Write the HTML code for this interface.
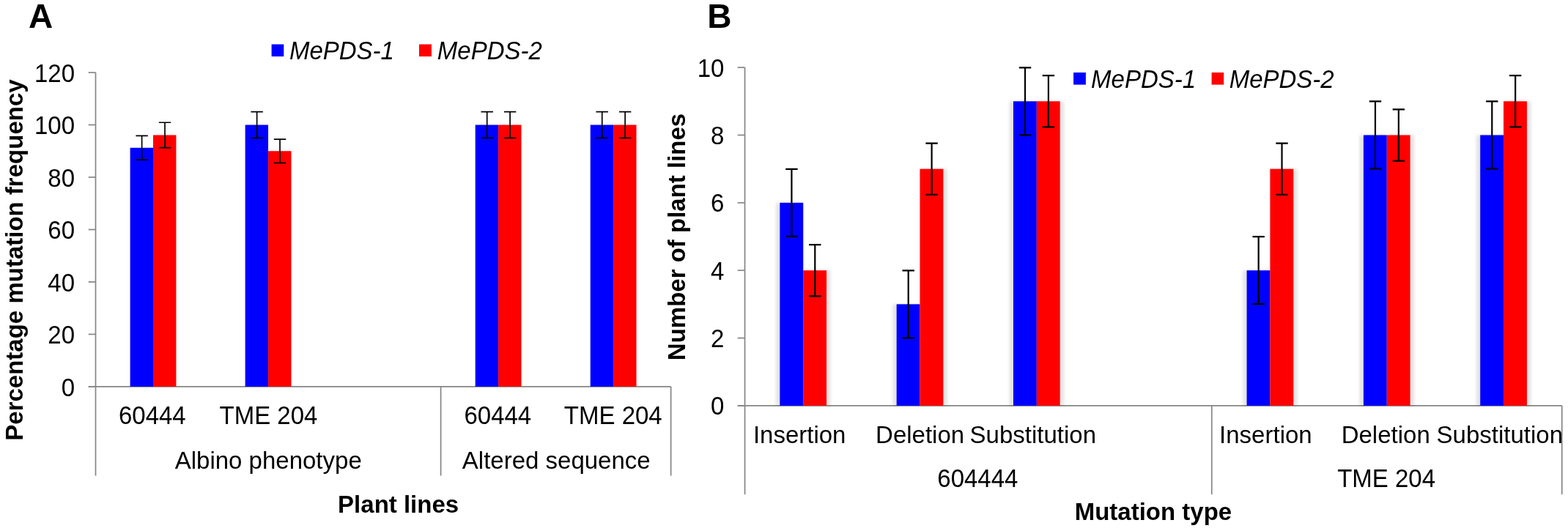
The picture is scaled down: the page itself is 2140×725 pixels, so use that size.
<!DOCTYPE html>
<html><head><meta charset="utf-8"><title>Figure</title>
<style>
html,body{margin:0;padding:0;background:#fff;}
svg{display:block;}
</style></head>
<body>
<svg width="2140" height="725" viewBox="0 0 2140 725" font-family="'Liberation Sans', Arial, sans-serif" font-size="33" fill="#000">
<defs>
<filter id="sh" x="-5%" y="-10%" width="110%" height="120%">
<feGaussianBlur stdDeviation="2"/>
</filter>
</defs>
<rect width="2140" height="725" fill="#fff"/>
<line x1="130.50" y1="99.00" x2="130.50" y2="649.50" stroke="#858585" stroke-width="1.7"/>
<line x1="120.70" y1="527.90" x2="130.50" y2="527.90" stroke="#858585" stroke-width="1.7"/>
<line x1="120.70" y1="456.42" x2="130.50" y2="456.42" stroke="#858585" stroke-width="1.7"/>
<line x1="120.70" y1="384.94" x2="130.50" y2="384.94" stroke="#858585" stroke-width="1.7"/>
<line x1="120.70" y1="313.46" x2="130.50" y2="313.46" stroke="#858585" stroke-width="1.7"/>
<line x1="120.70" y1="241.98" x2="130.50" y2="241.98" stroke="#858585" stroke-width="1.7"/>
<line x1="120.70" y1="170.50" x2="130.50" y2="170.50" stroke="#858585" stroke-width="1.7"/>
<line x1="120.70" y1="99.02" x2="130.50" y2="99.02" stroke="#858585" stroke-width="1.7"/>
<line x1="120.70" y1="527.90" x2="915.65" y2="527.90" stroke="#858585" stroke-width="1.7"/>
<line x1="601.59" y1="527.90" x2="601.59" y2="649.50" stroke="#858585" stroke-width="1.7"/>
<line x1="915.65" y1="527.90" x2="915.65" y2="649.50" stroke="#858585" stroke-width="1.7"/>
<text transform="translate(102.05 540.70) scale(1 1.04)" text-anchor="end">0</text>
<text transform="translate(102.05 469.22) scale(1 1.04)" text-anchor="end">20</text>
<text transform="translate(102.05 397.74) scale(1 1.04)" text-anchor="end">40</text>
<text transform="translate(102.05 326.26) scale(1 1.04)" text-anchor="end">60</text>
<text transform="translate(102.05 254.78) scale(1 1.04)" text-anchor="end">80</text>
<text transform="translate(102.05 183.30) scale(1 1.04)" text-anchor="end">100</text>
<text transform="translate(102.05 111.82) scale(1 1.04)" text-anchor="end">120</text>
<rect x="177.61" y="201.77" width="31.41" height="326.13" fill="#0000ff"/>
<rect x="209.01" y="184.44" width="31.41" height="343.46" fill="#ff0000"/>
<rect x="334.64" y="170.50" width="31.41" height="357.40" fill="#0000ff"/>
<rect x="366.05" y="206.24" width="31.41" height="321.66" fill="#ff0000"/>
<rect x="648.70" y="170.50" width="31.41" height="357.40" fill="#0000ff"/>
<rect x="680.11" y="170.50" width="31.41" height="357.40" fill="#ff0000"/>
<rect x="805.73" y="170.50" width="31.41" height="357.40" fill="#0000ff"/>
<rect x="837.13" y="170.50" width="31.41" height="357.40" fill="#ff0000"/>
<path d="M193.61 185.47V218.08M185.41 185.47H201.81M185.41 218.08H201.81" stroke="#000" stroke-width="1.7" fill="none"/>
<path d="M225.02 167.27V201.61M216.82 167.27H233.22M216.82 201.61H233.22" stroke="#000" stroke-width="1.7" fill="none"/>
<path d="M350.64 152.63V188.37M342.44 152.63H358.84M342.44 188.37H358.84" stroke="#000" stroke-width="1.7" fill="none"/>
<path d="M382.05 190.16V222.32M373.85 190.16H390.25M373.85 222.32H390.25" stroke="#000" stroke-width="1.7" fill="none"/>
<path d="M664.70 152.63V188.37M656.50 152.63H672.90M656.50 188.37H672.90" stroke="#000" stroke-width="1.7" fill="none"/>
<path d="M696.11 152.63V188.37M687.91 152.63H704.31M687.91 188.37H704.31" stroke="#000" stroke-width="1.7" fill="none"/>
<path d="M821.73 152.63V188.37M813.53 152.63H829.93M813.53 188.37H829.93" stroke="#000" stroke-width="1.7" fill="none"/>
<path d="M853.14 152.63V188.37M844.94 152.63H861.34M844.94 188.37H861.34" stroke="#000" stroke-width="1.7" fill="none"/>
<text transform="translate(161.95 578.80) scale(1 1.04)">60444</text>
<text transform="translate(299.50 578.80) scale(1 1.04)">TME 204</text>
<text transform="translate(633.45 578.80) scale(1 1.04)">60444</text>
<text transform="translate(769.85 578.80) scale(1 1.04)">TME 204</text>
<text x="238.70" y="640.20">Albino phenotype</text>
<text x="630.80" y="640.20">Altered sequence</text>
<text x="461.10" y="700.00" font-weight="700">Plant lines</text>
<text x="0" y="0" font-weight="700" transform="translate(30.9 601.7) rotate(-90)">Percentage mutation frequency</text>
<rect x="370.60" y="60.50" width="16.70" height="16.60" fill="#0000ff"/>
<text transform="translate(394.90 81.20) scale(1 1.04)" font-style="italic">MePDS-1</text>
<rect x="572.00" y="60.50" width="16.90" height="16.60" fill="#ff0000"/>
<text transform="translate(596.80 81.20) scale(1 1.04)" font-style="italic">MePDS-2</text>
<text x="38.90" y="38.20" font-weight="700" font-size="46">A</text>
<line x1="1016.55" y1="92.10" x2="1016.55" y2="675.00" stroke="#858585" stroke-width="1.7"/>
<line x1="1006.70" y1="553.90" x2="1016.55" y2="553.90" stroke="#858585" stroke-width="1.7"/>
<line x1="1006.70" y1="461.54" x2="1016.55" y2="461.54" stroke="#858585" stroke-width="1.7"/>
<line x1="1006.70" y1="369.18" x2="1016.55" y2="369.18" stroke="#858585" stroke-width="1.7"/>
<line x1="1006.70" y1="276.82" x2="1016.55" y2="276.82" stroke="#858585" stroke-width="1.7"/>
<line x1="1006.70" y1="184.46" x2="1016.55" y2="184.46" stroke="#858585" stroke-width="1.7"/>
<line x1="1006.70" y1="92.10" x2="1016.55" y2="92.10" stroke="#858585" stroke-width="1.7"/>
<line x1="1006.70" y1="553.90" x2="2131.72" y2="553.90" stroke="#858585" stroke-width="1.7"/>
<line x1="1653.79" y1="553.90" x2="1653.79" y2="675.00" stroke="#858585" stroke-width="1.7"/>
<line x1="2131.72" y1="553.90" x2="2131.72" y2="675.00" stroke="#858585" stroke-width="1.7"/>
<text transform="translate(988.40 566.30) scale(1 1.04)" text-anchor="end">0</text>
<text transform="translate(988.40 473.94) scale(1 1.04)" text-anchor="end">2</text>
<text transform="translate(988.40 381.58) scale(1 1.04)" text-anchor="end">4</text>
<text transform="translate(988.40 289.22) scale(1 1.04)" text-anchor="end">6</text>
<text transform="translate(988.40 196.86) scale(1 1.04)" text-anchor="end">8</text>
<text transform="translate(988.40 104.50) scale(1 1.04)" text-anchor="end">10</text>
<g filter="url(#sh)" opacity="0.11">
<rect x="1059.04" y="276.82" width="37.16" height="277.08" fill="#000"/>
<rect x="1096.20" y="369.18" width="37.16" height="184.72" fill="#000"/>
<rect x="1218.35" y="415.36" width="37.16" height="138.54" fill="#000"/>
<rect x="1255.51" y="230.64" width="37.16" height="323.26" fill="#000"/>
<rect x="1377.66" y="138.28" width="37.16" height="415.62" fill="#000"/>
<rect x="1414.82" y="138.28" width="37.16" height="415.62" fill="#000"/>
<rect x="1696.28" y="369.18" width="37.16" height="184.72" fill="#000"/>
<rect x="1733.44" y="230.64" width="37.16" height="323.26" fill="#000"/>
<rect x="1855.59" y="184.46" width="37.16" height="369.44" fill="#000"/>
<rect x="1892.76" y="184.46" width="37.16" height="369.44" fill="#000"/>
<rect x="2014.90" y="184.46" width="37.16" height="369.44" fill="#000"/>
<rect x="2052.07" y="138.28" width="37.16" height="415.62" fill="#000"/>
</g>
<rect x="1064.34" y="276.82" width="31.86" height="277.08" fill="#0000ff"/>
<rect x="1096.20" y="369.18" width="31.86" height="184.72" fill="#ff0000"/>
<rect x="1223.65" y="415.36" width="31.86" height="138.54" fill="#0000ff"/>
<rect x="1255.51" y="230.64" width="31.86" height="323.26" fill="#ff0000"/>
<rect x="1382.96" y="138.28" width="31.86" height="415.62" fill="#0000ff"/>
<rect x="1414.82" y="138.28" width="31.86" height="415.62" fill="#ff0000"/>
<rect x="1701.58" y="369.18" width="31.86" height="184.72" fill="#0000ff"/>
<rect x="1733.44" y="230.64" width="31.86" height="323.26" fill="#ff0000"/>
<rect x="1860.89" y="184.46" width="31.86" height="369.44" fill="#0000ff"/>
<rect x="1892.76" y="184.46" width="31.86" height="369.44" fill="#ff0000"/>
<rect x="2020.20" y="184.46" width="31.86" height="369.44" fill="#0000ff"/>
<rect x="2052.07" y="138.28" width="31.86" height="415.62" fill="#ff0000"/>
<path d="M1080.42 230.82V322.82M1072.22 230.82H1088.62M1072.22 322.82H1088.62" stroke="#000" stroke-width="2.2" fill="none"/>
<path d="M1112.29 334.08V404.28M1104.09 334.08H1120.49M1104.09 404.28H1120.49" stroke="#000" stroke-width="2.2" fill="none"/>
<path d="M1239.73 369.36V461.36M1231.53 369.36H1247.93M1231.53 461.36H1247.93" stroke="#000" stroke-width="2.2" fill="none"/>
<path d="M1271.60 195.54V265.74M1263.40 195.54H1279.80M1263.40 265.74H1279.80" stroke="#000" stroke-width="2.2" fill="none"/>
<path d="M1399.04 92.28V184.28M1390.84 92.28H1407.24M1390.84 184.28H1407.24" stroke="#000" stroke-width="2.2" fill="none"/>
<path d="M1430.91 103.18V173.38M1422.71 103.18H1439.11M1422.71 173.38H1439.11" stroke="#000" stroke-width="2.2" fill="none"/>
<path d="M1717.66 323.18V415.18M1709.46 323.18H1725.86M1709.46 415.18H1725.86" stroke="#000" stroke-width="2.2" fill="none"/>
<path d="M1749.53 195.54V265.74M1741.33 195.54H1757.73M1741.33 265.74H1757.73" stroke="#000" stroke-width="2.2" fill="none"/>
<path d="M1876.97 138.46V230.46M1868.77 138.46H1885.17M1868.77 230.46H1885.17" stroke="#000" stroke-width="2.2" fill="none"/>
<path d="M1908.84 149.36V219.56M1900.64 149.36H1917.04M1900.64 219.56H1917.04" stroke="#000" stroke-width="2.2" fill="none"/>
<path d="M2036.28 138.46V230.46M2028.08 138.46H2044.48M2028.08 230.46H2044.48" stroke="#000" stroke-width="2.2" fill="none"/>
<path d="M2068.15 103.18V173.38M2059.95 103.18H2076.35M2059.95 173.38H2076.35" stroke="#000" stroke-width="2.2" fill="none"/>
<text x="1027.90" y="605.00">Insertion</text>
<text x="1195.06" y="605.00">Deletion</text>
<text x="1323.60" y="605.00">Substitution</text>
<text x="1664.10" y="605.00">Insertion</text>
<text x="1830.66" y="605.00">Deletion</text>
<text x="1960.55" y="605.00">Substitution</text>
<text transform="translate(1279.30 665.40) scale(1 1.04)">604444</text>
<text transform="translate(1825.20 665.30) scale(1 1.04)">TME 204</text>
<text x="1466.70" y="710.00" font-weight="700">Mutation type</text>
<text x="0" y="0" font-weight="700" transform="translate(935.1 492.2) rotate(-90)">Number of plant lines</text>
<rect x="1465.10" y="99.00" width="16.80" height="16.60" fill="#0000ff"/>
<text transform="translate(1489.10 119.70) scale(1 1.04)" font-style="italic">MePDS-1</text>
<rect x="1653.60" y="99.00" width="16.60" height="16.60" fill="#ff0000"/>
<text transform="translate(1677.70 119.70) scale(1 1.04)" font-style="italic">MePDS-2</text>
<text x="965.20" y="38.00" font-weight="700" font-size="46">B</text>
</svg>
</body></html>
